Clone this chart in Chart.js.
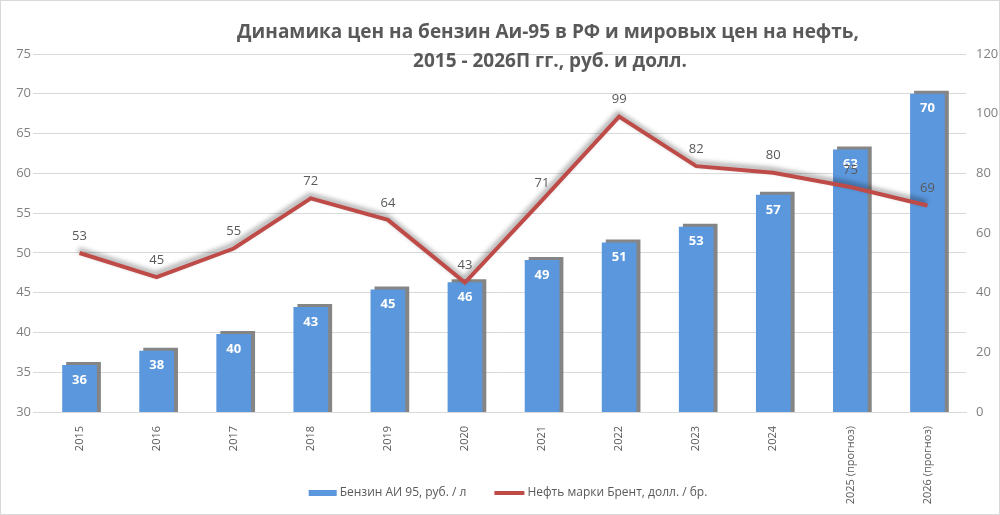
<!DOCTYPE html>
<html><head><meta charset="utf-8">
<script src="https://cdn.jsdelivr.net/npm/chart.js@4"></script>
<style>
html,body{margin:0;padding:0;background:#fff}
#wrap{width:1000px;height:515px;box-sizing:border-box;border:1px solid #d9d9d9;position:relative}
</style></head>
<body><div id="wrap"><canvas id="c" width="998" height="513"></canvas></div>
<script>
'use strict';
// данные
const years=['2015','2016','2017','2018','2019','2020','2021','2022','2023','2024','2025 (прогноз)','2026 (прогноз)'];
const benzin=[35.9,37.7,39.8,43.2,45.4,46.3,49.1,51.3,53.3,57.3,63.0,70.0];
const brent=[53.3,45.2,54.8,71.6,64.4,43.4,70.9,99.0,82.4,80.2,75.4,69.2];
const titleLines=['Динамика цен на бензин Аи-95 в РФ и мировых цен на нефть,','2015 - 2026П гг., руб. и долл.'];
const labBenzin='Бензин АИ 95, руб. / л', labBrent='Нефть марки Брент, долл. / бр.';

const FONT='"Open Sans", "DejaVu Sans", sans-serif';
const BLUE='#5b97dd', RED='#be4b48';

const shadowPlug={id:'shadows',
  beforeDatasetDraw(ch,a){const c=ch.ctx;c.save();
    if(a.index===0){c.shadowColor='rgba(120,120,120,0.9)';c.shadowOffsetX=4;c.shadowOffsetY=-3;c.shadowBlur=0;}
    else{c.shadowColor='rgba(0,0,0,0.4)';c.shadowOffsetX=-1;c.shadowOffsetY=-3;c.shadowBlur=5;}},
  afterDatasetDraw(ch){ch.ctx.restore();}
};
const labelPlug={id:'vals',
  afterDatasetsDraw(ch){const c=ch.ctx;c.save();c.textAlign='center';c.textBaseline='middle';
    ch.getDatasetMeta(0).data.forEach((el,i)=>{c.font='bold 13px '+FONT;c.fillStyle='#fff';c.fillText(Math.round(benzin[i]),el.x,el.y+15);});
    ch.getDatasetMeta(1).data.forEach((el,i)=>{c.font='13px '+FONT;c.fillStyle='#595959';c.fillText(Math.round(brent[i]),el.x,el.y-17);});
    c.restore();}
};
// заголовок и легенда рисуем сами
const titlePlug={id:'ttl',
  afterDraw(ch){const c=ch.ctx;c.save();c.font='bold 19px '+FONT;c.fillStyle='#595959';c.textAlign='center';c.textBaseline='middle';
    c.fillText(titleLines[0],547,32);c.fillText(titleLines[1],549,61);
    c.font='12px '+FONT;c.textAlign='left';
    const w1=c.measureText(labBenzin).width, w2=c.measureText(labBrent).width;
    const tot=28+3+w1+28+30+3+w2; let x=(ch.width-tot)/2+8, y=492;
    c.fillStyle=BLUE;c.fillRect(x,y-3,28,6);x+=31;c.fillStyle='#595959';c.fillText(labBenzin,x,y);x+=w1+28;
    c.strokeStyle=RED;c.lineWidth=4;c.beginPath();c.moveTo(x,y);c.lineTo(x+30,y);c.stroke();x+=33;c.fillText(labBrent,x,y);
    c.restore();}
};

new Chart(document.getElementById('c'),{
  data:{labels:years,datasets:[
    {type:'bar',label:labBenzin,data:benzin,yAxisID:'y',order:2,backgroundColor:BLUE,barPercentage:0.9,categoryPercentage:0.5},
    {type:'line',label:labBrent,data:brent,yAxisID:'y2',order:1,borderColor:RED,backgroundColor:RED,borderWidth:4,pointRadius:0,tension:0}
  ]},
  options:{responsive:false,animation:false,devicePixelRatio:1,
    layout:{padding:{top:53,left:0,right:0,bottom:4}},
    plugins:{legend:{display:false},tooltip:{enabled:false}},
    scales:{
      x:{grid:{display:false},border:{color:'#d9d9d9'},ticks:{minRotation:90,maxRotation:90,autoSkip:false,padding:6,color:'#595959',font:{family:FONT,size:11}},
        afterFit(s){s.height=98;}},
      y:{position:'left',min:30,max:75,grid:{color:'#d9d9d9'},border:{display:false},ticks:{stepSize:5,padding:2,color:'#808080',font:{family:FONT,size:13}},
        afterFit(s){s.width=40;}},
      y2:{position:'right',min:0,max:120,grid:{display:false},border:{display:false},ticks:{stepSize:20,padding:2,color:'#808080',font:{family:FONT,size:13}},
        afterFit(s){s.width=33;}}
    }},
  plugins:[shadowPlug,labelPlug,titlePlug]
});
</script></body></html>
